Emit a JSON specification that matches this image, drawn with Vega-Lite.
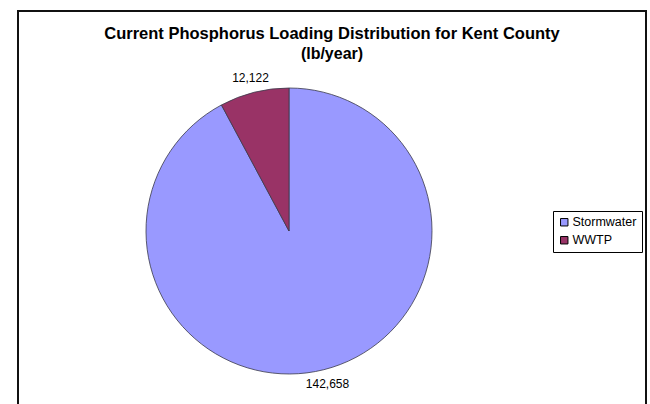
{
  "$schema": "https://vega.github.io/schema/vega-lite/v6.json",
  "width": 628,
  "height": 398,
  "padding": {"left": 18, "top": 11, "right": 4, "bottom": 0},
  "background": "white",
  "view": {"stroke": "#111111", "strokeWidth": 2, "fill": "white"},
  "title": {
    "text": "Current Phosphorus Loading Distribution for Kent County",
    "subtitle": "(lb/year)",
    "anchor": "middle",
    "orient": "top",
    "offset": -51,
    "font": "Liberation Sans",
    "fontSize": 16.5,
    "fontWeight": "bold",
    "color": "#000000",
    "subtitleFont": "Liberation Sans",
    "subtitleFontSize": 16,
    "subtitleFontWeight": "bold",
    "subtitleColor": "#000000",
    "subtitlePadding": 4
  },
  "config": {
    "font": "Liberation Sans",
    "legend": {"strokeWidth": 1}
  },
  "data": {
    "values": [
      {"category": "Stormwater", "value": 142658, "label": "142,658"},
      {"category": "WWTP", "value": 12122, "label": "12,122"}
    ]
  },
  "encoding": {
    "theta": {"field": "value", "type": "quantitative", "stack": true},
    "order": {"field": "category", "sort": "ascending"}
  },
  "layer": [
    {
      "mark": {"type": "arc", "x": 271, "y": 220, "outerRadius": 143, "stroke": "#3a3a4a", "strokeWidth": 0.8},
      "encoding": {
        "color": {
          "field": "category",
          "type": "nominal",
          "scale": {"domain": ["Stormwater", "WWTP"], "range": ["#9999FF", "#993366"]},
          "legend": {
            "title": null,
            "orient": "none",
            "legendX": 535,
            "legendY": 200,
            "strokeColor": "#000000",
            "padding": 5,
            "symbolType": "square",
            "symbolSize": 55,
            "symbolStrokeColor": "#000000",
            "symbolStrokeWidth": 1,
            "symbolOpacity": 1,
            "labelFont": "Liberation Sans",
            "labelFontSize": 12.5,
            "labelColor": "#000000",
            "labelOffset": 2,
            "rowPadding": 5
          }
        }
      }
    },
    {
      "mark": {"type": "text", "x": 271, "y": 220, "radius": 158, "font": "Liberation Sans", "fontSize": 12, "color": "#000000"},
      "encoding": {
        "text": {"field": "label", "type": "nominal"},
        "detail": {"field": "category", "type": "nominal"}
      }
    }
  ]
}
